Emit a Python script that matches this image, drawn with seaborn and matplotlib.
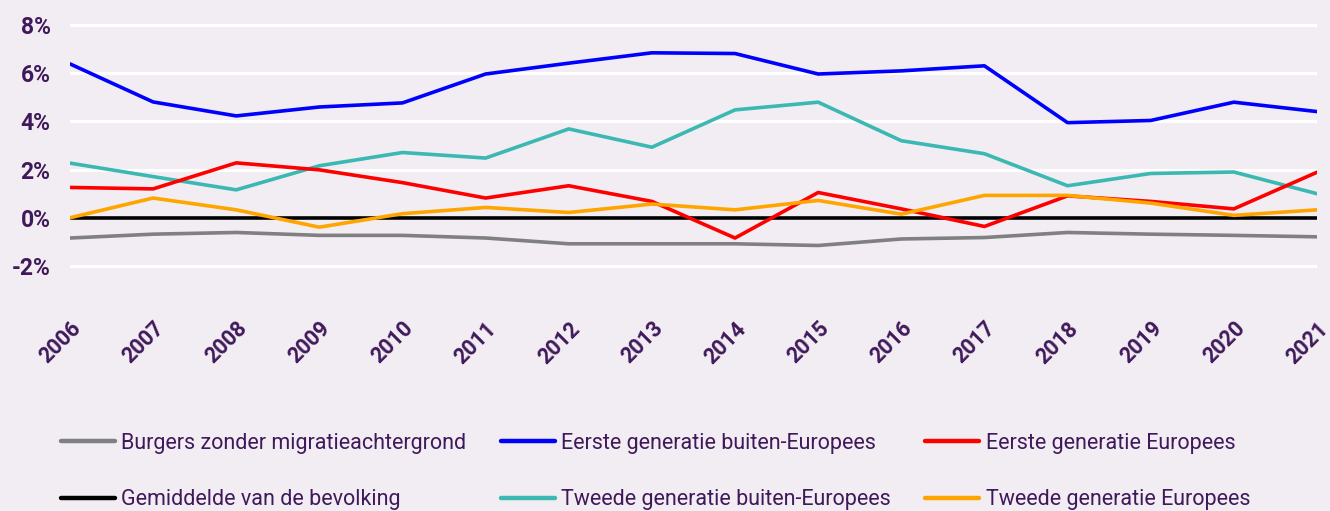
#!/usr/bin/env python3
"""Afwijking ten opzichte van het gemiddelde, per migratieachtergrond, 2006-2021."""

import matplotlib

matplotlib.use("Agg")
import matplotlib.pyplot as plt
import pandas as pd
import seaborn as sns
from matplotlib.ticker import FuncFormatter

YEARS = list(range(2006, 2022))

BURGERS = [-0.84, -0.68, -0.61, -0.73, -0.73, -0.84, -1.08, -1.08, -1.08, -1.15, -0.88, -0.82, -0.61, -0.68, -0.73, -0.79]
GEMIDDELDE = [0.0] * 16
EERSTE_BUITEN = [6.39, 4.81, 4.23, 4.60, 4.77, 5.97, 6.42, 6.85, 6.82, 5.97, 6.10, 6.31, 3.95, 4.04, 4.80, 4.41]
TWEEDE_BUITEN = [2.27, 1.71, 1.16, 2.16, 2.71, 2.48, 3.69, 2.93, 4.48, 4.80, 3.20, 2.66, 1.33, 1.84, 1.90, 1.00]
EERSTE_EUROPEES = [1.26, 1.20, 2.28, 1.99, 1.46, 0.82, 1.33, 0.68, -0.84, 1.05, 0.37, -0.36, 0.91, 0.68, 0.37, 1.89]
TWEEDE_EUROPEES = [0.00, 0.82, 0.33, -0.39, 0.17, 0.43, 0.22, 0.57, 0.33, 0.72, 0.15, 0.93, 0.93, 0.61, 0.10, 0.33]

SERIES = {
    "Burgers zonder migratieachtergrond": BURGERS,
    "Gemiddelde van de bevolking": GEMIDDELDE,
    "Eerste generatie buiten-Europees": EERSTE_BUITEN,
    "Tweede generatie buiten-Europees": TWEEDE_BUITEN,
    "Eerste generatie Europees": EERSTE_EUROPEES,
    "Tweede generatie Europees": TWEEDE_EUROPEES,
}
COLORS = ["#808080", "#000000", "#0000ff", "#3cb8b2", "#ff0000", "#ffa500"]
Y_TICKS = [-2, 0, 2, 4, 6, 8]

BG = "#f1edf3"
TEXT = "#40195a"

sns.set_theme(style="white")
plt.rcParams["font.family"] = ["Roboto", "DejaVu Sans"]

frame = pd.DataFrame(
    [(year, name, value) for name, values in SERIES.items() for year, value in zip(YEARS, values)],
    columns=["jaar", "groep", "waarde"],
)

fig = plt.figure(figsize=(13.3, 5.11), dpi=100, facecolor=BG)
ax = fig.add_axes([0.0526, 0.4654, 0.9376, 0.4996], facecolor=BG)

for y in Y_TICKS:
    ax.axhline(y, color="white", lw=2.2, zorder=0)

sns.lineplot(
    data=frame, x="jaar", y="waarde", hue="groep", hue_order=list(SERIES),
    palette=COLORS, lw=2.6, ax=ax, legend=False, zorder=3,
)

ax.set_xlim(YEARS[0], YEARS[-1])
ax.set_ylim(-2.3, 8.3)
ax.set(xlabel="", ylabel="")
ax.set_yticks(Y_TICKS)
ax.yaxis.set_major_formatter(FuncFormatter(lambda v, _: f"{v:.0f}%"))
ax.set_xticks(YEARS)
ax.set_xticklabels([str(y) for y in YEARS], rotation=45, ha="right", rotation_mode="anchor")
ax.tick_params(axis="x", length=0, pad=32, labelsize=15.5, labelcolor=TEXT)
ax.tick_params(axis="y", length=0, pad=14, labelsize=16.5, labelcolor=TEXT)
for label in ax.get_xticklabels() + ax.get_yticklabels():
    label.set_fontweight("bold")
sns.despine(ax=ax, left=True, bottom=True)

handles = [plt.Line2D([], [], color=c, lw=3.2, solid_capstyle="round") for c in COLORS]
fig.legend(
    handles, list(SERIES), loc="upper left", bbox_to_anchor=(0.046, 0.153), ncol=3,
    frameon=False, fontsize=15.5, labelcolor=TEXT, handlelength=2.5, handletextpad=0.3,
    columnspacing=1.6, labelspacing=1.65, borderpad=0, borderaxespad=0,
)

fig.savefig("out.png", dpi=100, facecolor=BG)
